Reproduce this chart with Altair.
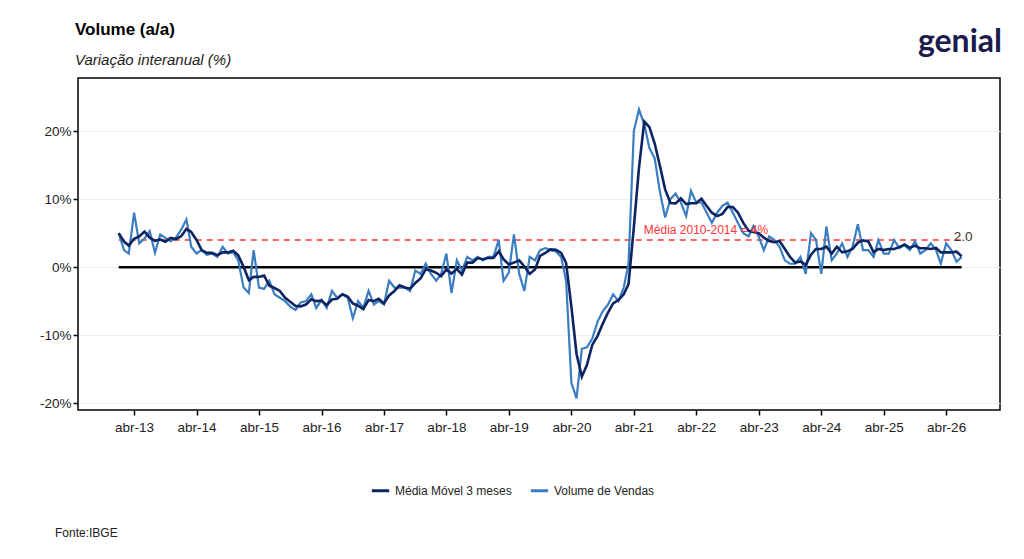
import altair as alt
import pandas as pd

# Volume de vendas (a/a, %), mensal, jan-13 em diante
volume = [
    5.0, 2.5, 2.0, 8.0, 3.5, 4.2, 5.3, 2.1, 4.8, 4.3, 3.8, 4.3,
    5.5, 7.0, 3.0, 2.0, 2.5, 1.8, 2.0, 1.5, 3.0, 2.0, 2.2, 1.0,
    -3.0, -3.8, 2.5, -3.0, -3.2, -2.0, -4.0, -4.5, -5.0, -5.8, -6.3, -5.2,
    -5.0, -4.0, -6.0, -4.8, -6.0, -3.5, -4.5, -4.0, -4.5, -7.5, -5.0, -6.0,
    -3.5, -5.5, -5.0, -5.5, -2.0, -3.0, -3.0, -3.0, -3.5, -0.5, -1.0, 0.5,
    -1.0, -2.0, -1.0, 2.0, -3.8, 1.0, -0.5, 1.5, 1.0, 1.5, 1.0, 1.5,
    1.5, 4.0, -2.0, -0.8, 4.8, -1.0, -3.5, 1.5, 1.0, 2.5, 2.8, 2.5,
    2.3, 1.5, -2.0, -17.0, -19.3, -12.0, -11.8, -10.5, -8.0, -6.5, -5.5, -4.0,
    -5.0, -3.0, 0.5, 20.0, 23.2, 21.0, 17.5, 16.0, 11.0, 7.3, 10.0, 10.8,
    9.5, 7.5, 11.2, 9.5, 9.5, 8.0, 6.5, 8.0, 9.0, 9.5, 8.0, 6.5,
    5.0, 4.5, 6.0, 4.5, 2.5, 4.5, 4.0, 3.0, 1.0, 0.5, 0.5, 1.5,
    -1.0, 5.0, 4.0, -1.0, 6.0, 1.0, 2.0, 3.5, 1.5, 3.0, 6.3, 2.5,
    2.5, 1.5, 4.0, 2.0, 2.0, 4.0, 2.8, 3.2, 2.5, 3.8, 2.0, 2.5,
    3.5, 2.5, 0.5, 3.5, 2.5, 0.8, 1.5,
]
dates = pd.date_range("2013-01-01", periods=len(volume), freq="MS")
media_ref = 4
ultimo_label = "2.0"

df = pd.DataFrame({"date": dates.strftime("%Y-%m-%d"), "vol": volume})
base = alt.Chart(df)

x_dom = ["2012-05-08", "2027-02-10"]
tick_dates = [f"{y}-04-01" for y in range(2013, 2027)]
xs = alt.X(
    "date:T",
    scale=alt.Scale(domain=x_dom),
    title=None,
    axis=alt.Axis(
        values=tick_dates,
        labelExpr="'abr-' + timeFormat(datum.value, '%y')",
        grid=False, domain=False, tickColor="black", tickWidth=1.5, tickSize=5,
        labelFontSize=13.5, labelColor="#222", labelPadding=5,
    ),
)
ys = alt.Y(
    "vol:Q",
    scale=alt.Scale(domain=[-21, 27.8], nice=False),
    title=None,
    axis=alt.Axis(
        values=[-20, -15, -10, -5, 0, 5, 10, 15, 20, 25],
        labelExpr="datum.value % 10 == 0 ? datum.value + '%' : ''",
        tickOpacity={"condition": {"test": "datum.value % 10 == 0", "value": 1}, "value": 0},
        gridColor="#eeeeee", domain=False, tickColor="black", tickWidth=1.5,
        labelFontSize=13.5, labelColor="#222",
    ),
)

names = ["Média Móvel 3 meses", "Volume de Vendas"]
color = alt.Color(
    "serie:N",
    scale=alt.Scale(domain=names, range=["#0d2463", "#3a7dc0"]),
    legend=alt.Legend(
        title=None, orient="none", direction="horizontal", legendX=292, legendY=402,
        labelFontSize=12, symbolType="stroke", symbolStrokeWidth=3, symbolSize=300,
        columnPadding=12, labelColor="#222",
    ),
)

vol_line = base.mark_line(strokeWidth=2.2).transform_calculate(
    serie="'Volume de Vendas'"
).encode(x=xs, y=ys, color=color)

ma_line = base.mark_line(strokeWidth=2.6).transform_window(
    ma="mean(vol)", frame=[-2, 0]
).transform_calculate(serie="'Média Móvel 3 meses'").encode(
    x="date:T", y="ma:Q", color=color
)

lim = pd.DataFrame({"x": [df.date.iloc[0]], "x2": [df.date.iloc[-1]], "zero": [0], "ref": [media_ref]})
zero_rule = alt.Chart(lim).mark_rule(color="black", strokeWidth=2.5).encode(x="x:T", x2="x2:T", y="zero:Q")
ref_rule = alt.Chart(lim).mark_rule(color="#ff3333", strokeWidth=1.5, strokeDash=[6, 5]).encode(
    x="x:T", x2="x2:T", y="ref:Q"
)

ann = pd.DataFrame({
    "date": ["2021-07-15", df.date.iloc[-1]],
    "y": [5.4, 4.4],
    "t": [f"Média 2010-2014 = {media_ref}%", ultimo_label],
    "c": ["#ff3333", "#333333"],
    "s": [12, 13.5],
})
ann_text = alt.Chart(ann).mark_text(align="left", dx=-8).encode(
    x="date:T", y="y:Q", text="t:N", color=alt.Color("c:N", scale=None),
    size=alt.Size("s:Q", scale=None, legend=None),
)

extra = pd.DataFrame({
    "t": ["Volume (a/a)", "Variação interanual (%)", "genial", "Fonte:IBGE"],
})
title_t = alt.Chart(extra).transform_filter("datum.t == 'Volume (a/a)'").mark_text(
    align="left", fontSize=17, fontWeight="bold", color="black"
).encode(x=alt.value(-3), y=alt.value(-48), text="t:N")
sub_t = alt.Chart(extra).transform_filter("datum.t == 'Variação interanual (%)'").mark_text(
    align="left", fontSize=15, fontStyle="italic", color="#222"
).encode(x=alt.value(-3), y=alt.value(-18), text="t:N")
logo_t = alt.Chart(extra).transform_filter("datum.t == 'genial'").mark_text(
    align="right", fontSize=32, fontWeight="bold", color="#1b1b4d", font="Lato"
).encode(x=alt.value(924), y=alt.value(-36), text="t:N")
src_t = alt.Chart(extra).transform_filter("datum.t == 'Fonte:IBGE'").mark_text(
    align="left", fontSize=12, color="#222"
).encode(x=alt.value(-23), y=alt.value(455), text="t:N")

chart = alt.layer(
    ref_rule, zero_rule, vol_line, ma_line, ann_text, title_t, sub_t, logo_t, src_t
).properties(
    width=922, height=332,
    autosize=alt.AutoSizeParams(type="none"),
    padding={"left": 70, "top": 70, "right": 16, "bottom": 141},
).configure(font="Liberation Sans").configure_view(stroke="black", strokeWidth=1.5)

chart.save("out.html", embed_options={"renderer": "svg", "actions": False})
